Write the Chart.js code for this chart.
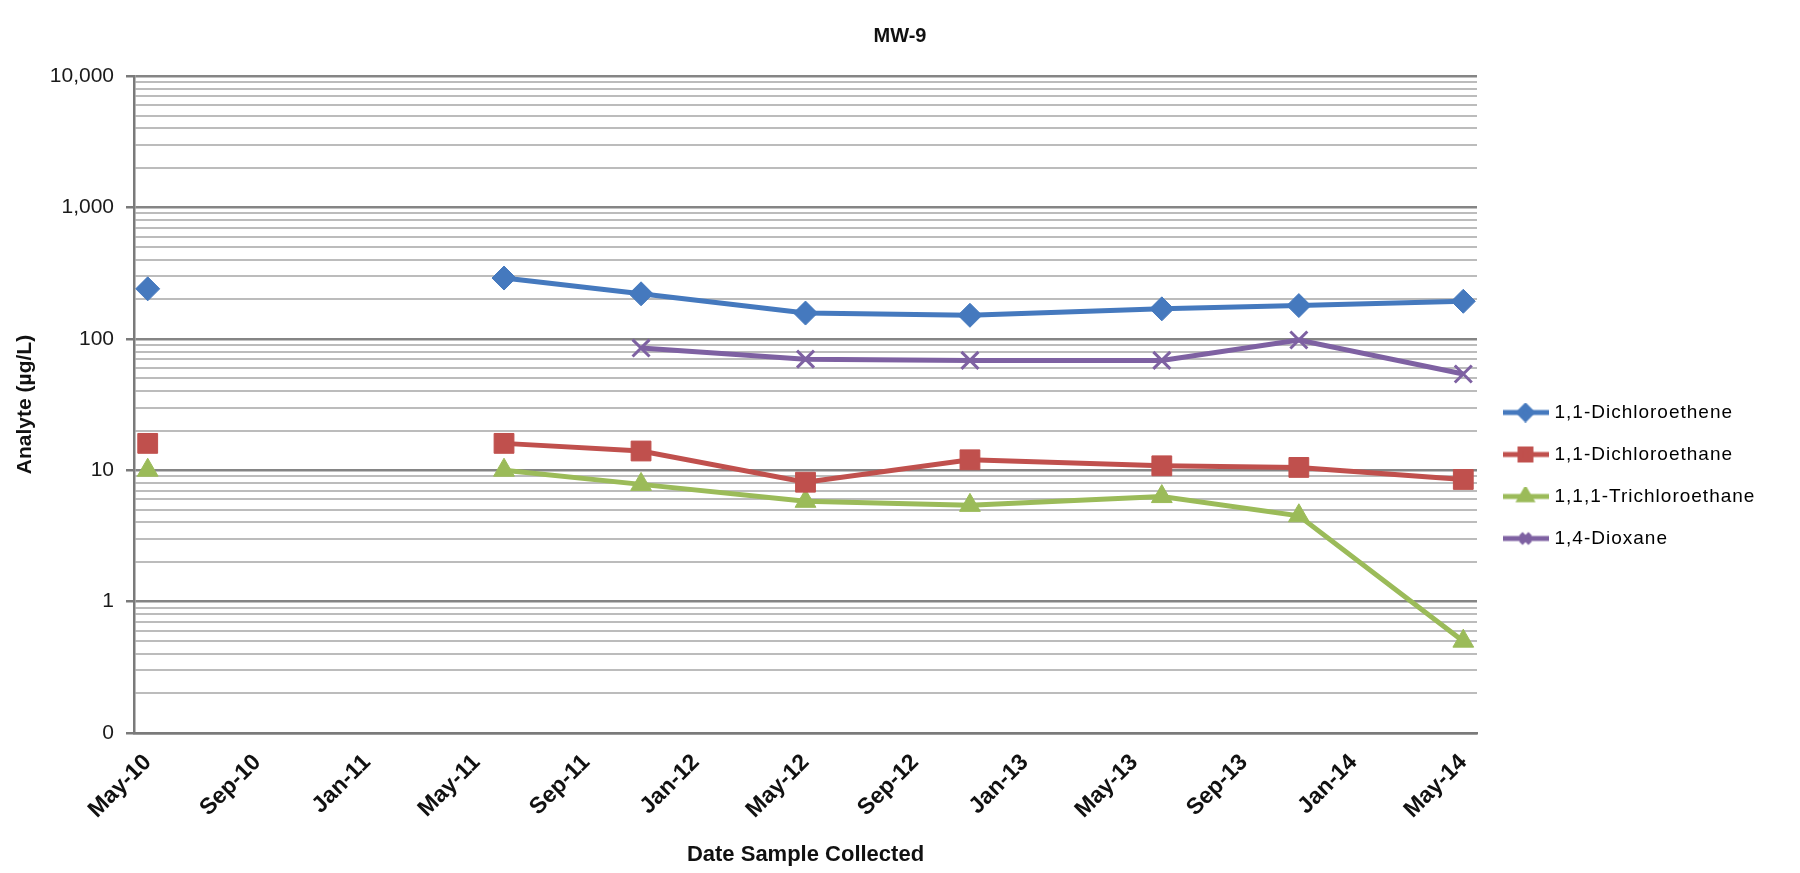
<!DOCTYPE html>
<html>
<head>
<meta charset="utf-8">
<title>MW-9</title>
<script src="https://cdn.jsdelivr.net/npm/chart.js@4/dist/chart.umd.min.js"></script>
<style>
  html, body { margin: 0; padding: 0; background: #ffffff; }
  #wrap { position: relative; width: 1800px; height: 873px; }
</style>
</head>
<body>
<div id="wrap"><canvas id="chart" width="1800" height="873"></canvas></div>
<script>
// ---- data -------------------------------------------------------------
// monthly slots of the date axis (May 2010 .. May 2014)
const monthNames = ['Jan','Feb','Mar','Apr','May','Jun','Jul','Aug','Sep','Oct','Nov','Dec'];
const months = [];
for (let y = 2010, m = 4; y < 2014 || (y === 2014 && m <= 4); m++) {
  if (m === 12) { m = 0; y++; }
  months.push(monthNames[m] + '-' + String(y).slice(2));
}
// labelled ticks on the date axis
const xTickLabels = ['May-10','Sep-10','Jan-11','May-11','Sep-11','Jan-12','May-12',
                     'Sep-12','Jan-13','May-13','Sep-13','Jan-14','May-14'];

// sampling events
const sampleDates = ['May-10','Jun-11','Nov-11','May-12','Nov-12','Jun-13','Nov-13','May-14'];
// the line is only drawn from this event on (the first event stands alone)
const lineStartsAt = 'Jun-11';

// analyte results (µg/L)
const dichloroethene11   = [240, 290, 220, 157, 151, 169, 179, 193];
const dichloroethane11   = [16, 16, 14, 8.1, 12, 10.8, 10.5, 8.5];
const trichloroethane111 = [10, 10, 7.8, 5.8, 5.4, 6.3, 4.5, 0.5];
const dioxane14          = [null, null, 85, 70, 68.5, 68.5, 98, 54];

const seriesNames  = ['1,1-Dichloroethene','1,1-Dichloroethane','1,1,1-Trichloroethane','1,4-Dioxane'];
const seriesValues = [dichloroethene11, dichloroethane11, trichloroethane111, dioxane14];

// value axis
const yDecades      = [0.1, 1, 10, 100, 1000, 10000];
const yDecadeLabels = ['0', '1', '10', '100', '1,000', '10,000'];

// ---- styling ----------------------------------------------------------
const seriesColors = ['#4579BE', '#C0504D', '#9BBB59', '#7E61A2'];
const seriesMarkers = [
  { style: 'rectRot',  radius: 12, border: 1 },
  { style: 'rect',     radius: 14, border: 1 },
  { style: 'triangle', radius: 12, border: 1 },
  { style: 'crossRot', radius: 12, border: 3 }
];
const FONT = '"Liberation Sans", Arial, Helvetica, sans-serif';
Chart.defaults.font.family = FONT;
Chart.defaults.color = '#1a1a1a';

const startIdx = months.indexOf(lineStartsAt);

const datasets = seriesNames.map((name, i) => {
  const color = seriesColors[i];
  const mk = seriesMarkers[i];
  const pts = [];
  sampleDates.forEach((d, k) => {
    const v = seriesValues[i][k];
    if (v !== null) pts.push({ x: d, y: v });
  });
  return {
    label: name,
    data: pts,
    borderColor: color,
    backgroundColor: color,
    borderWidth: 5,
    tension: 0,
    pointStyle: mk.style,
    pointRadius: mk.radius,
    pointHoverRadius: mk.radius,
    pointBorderWidth: mk.border,
    pointBackgroundColor: color,
    pointBorderColor: color,
    segment: {
      borderColor: ctx => ctx.p0.parsed.x < startIdx ? 'rgba(0,0,0,0)' : undefined
    }
  };
});

// small line + marker icons for the legend
function legendIcon(i) {
  const c = document.createElement('canvas');
  c.width = 46; c.height = 20;
  const g = c.getContext('2d');
  g.strokeStyle = seriesColors[i];
  g.lineWidth = 5;
  g.beginPath(); g.moveTo(0, 10); g.lineTo(46, 10); g.stroke();
  g.fillStyle = seriesColors[i];
  g.strokeStyle = seriesColors[i];
  const mk = seriesMarkers[i];
  Chart.helpers.drawPoint(g, {
    pointStyle: mk.style, radius: mk.radius * 0.55, rotation: 0, borderWidth: mk.border
  }, 23, 10);
  return c;
}
const legendIcons = seriesNames.map((_, i) => legendIcon(i));

const isDecade = v => Math.abs(Math.log10(v) - Math.round(Math.log10(v))) < 1e-9;

// legend placement to the right of the plot, with slightly spaced lettering
const legendPlacement = {
  id: 'legendPlacement',
  afterInit(chart) {
    const lg = chart.legend;
    const fit = lg.fit.bind(lg);
    lg.fit = function () { fit(); this.width = 323; };
    const draw = lg.draw.bind(lg);
    lg.draw = function (area) {
      const ctx = this.ctx;
      const prev = ctx.letterSpacing;
      ctx.letterSpacing = '1px';
      draw(area);
      ctx.letterSpacing = prev || '0px';
    };
  },
  afterLayout(chart) {
    const lg = chart.legend;
    const h = lg.bottom - lg.top;
    lg.top = 380; lg.bottom = 380 + h;
    lg.left = chart.chartArea.right + 6;
    lg.right = lg.left + lg.width;
  }
};

new Chart(document.getElementById('chart'), {
  type: 'line',
  data: { labels: months, datasets },
  plugins: [legendPlacement],
  options: {
    responsive: false,
    animation: false,
    layout: { padding: { left: 0, right: 0, top: 0, bottom: 0 } },
    plugins: {
      tooltip: { enabled: false },
      title: {
        display: true,
        text: 'MW-9',
        color: '#111',
        font: { size: 20, weight: 'bold' },
        padding: { top: 24, bottom: 28 }
      },
      legend: {
        position: 'right',
        align: 'start',
        labels: {
          usePointStyle: true,
          pointStyleWidth: 39,
          padding: 23,
          color: '#1a1a1a',
          font: { size: 19 },
          generateLabels(chart) {
            return chart.data.datasets.map((ds, i) => ({
              text: ds.label,
              fillStyle: ds.borderColor,
              strokeStyle: ds.borderColor,
              lineWidth: 0,
              pointStyle: legendIcons[i],
              hidden: false,
              datasetIndex: i
            }));
          }
        }
      }
    },
    scales: {
      x: {
        type: 'category',
        offset: true,
        grid: { display: false, drawTicks: false },
        border: { display: true, color: '#7a7a7a', width: 2.5 },
        ticks: {
          autoSkip: false,
          maxRotation: 45,
          minRotation: 45,
          padding: 16,
          color: '#111',
          font: { size: 23, weight: 'bold' },
          callback: (v, i) => xTickLabels.includes(months[i]) ? months[i] : ''
        },
        title: {
          display: true,
          text: 'Date Sample Collected',
          color: '#111',
          font: { size: 22, weight: 'bold' },
          padding: { top: 0, bottom: 5 }
        },
        afterFit: s => { s.height = 140; }
      },
      y: {
        type: 'logarithmic',
        min: 0.1,
        max: 10000,
        afterBuildTicks: s => {
          const t = [];
          for (let d = 0; d < yDecades.length - 1; d++) {
            for (let k = 1; k <= 9; k++) t.push({ value: k === 1 ? yDecades[d] : yDecades[d] * k });
          }
          t.push({ value: yDecades[yDecades.length - 1] });
          s.ticks = t;
        },
        grid: {
          color: c => isDecade(c.tick.value) ? '#858585' : '#bcbcbc',
          lineWidth: c => isDecade(c.tick.value) ? 2.5 : 2,
          tickColor: c => isDecade(c.tick.value) ? '#7a7a7a' : 'rgba(0,0,0,0)',
          tickLength: 8,
          tickWidth: 2.5
        },
        border: { display: true, color: '#7a7a7a', width: 2.5 },
        ticks: {
          autoSkip: false,
          padding: 12,
          color: '#1a1a1a',
          font: { size: 21 },
          callback: v => {
            const i = yDecades.findIndex(d => Math.abs(d - v) < 1e-9 * d);
            return i >= 0 ? yDecadeLabels[i] : '';
          }
        },
        title: {
          display: true,
          text: 'Analyte (µg/L)',
          color: '#111',
          font: { size: 21, weight: 'bold' },
          padding: { top: 13, bottom: 0 }
        },
        afterFit: s => { s.width = 134; }
      }
    }
  }
});
</script>
</body>
</html>
